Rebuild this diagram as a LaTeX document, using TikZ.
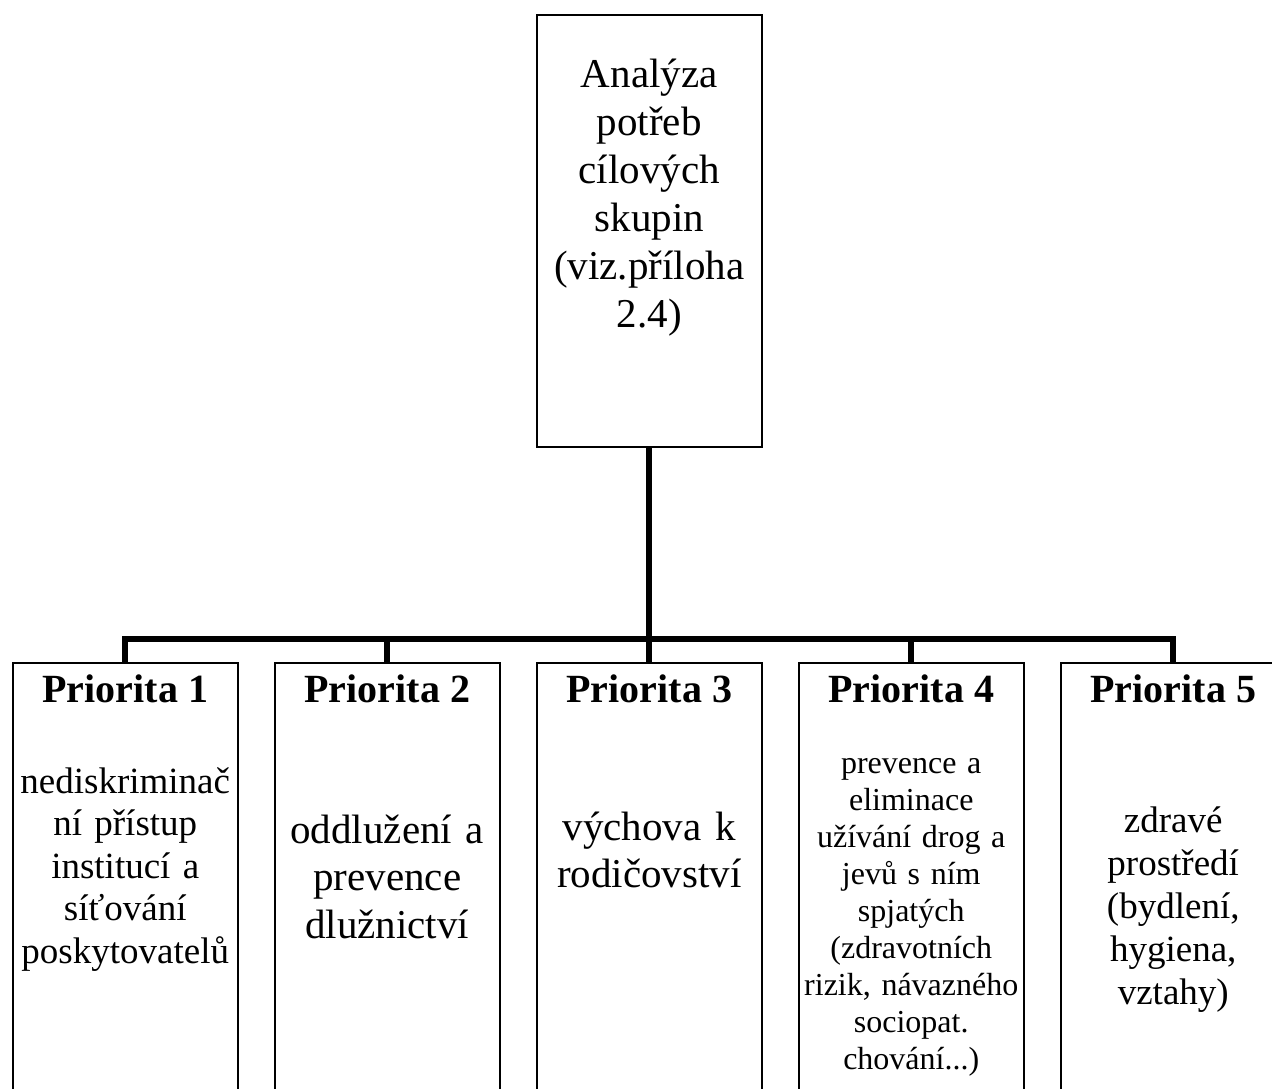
\documentclass[tikz,border=0pt]{standalone}
\usepackage{fontspec}
\setmainfont{Liberation Serif}
\begin{document}
\begin{tikzpicture}[x=1pt,y=-1pt,
  box/.style={draw=black, line width=2pt, rectangle, inner sep=0pt,
    minimum width=224.5pt, anchor=north west},
  conn/.style={draw=black, line width=6pt, line join=miter},
  title/.style={anchor=base, inner sep=0pt,
    font=\fontsize{40}{46}\selectfont\bfseries},
  body/.style={anchor=north, inner sep=0pt, align=center, text width=222pt}]
\useasboundingbox (0,0) rectangle (1272,1088);
\clip (0,0) rectangle (1272,1088);

% top box
\node[box, minimum height=432pt] (top) at (536,14) {};
\node[body, font=\fontsize{41}{48}\selectfont] (toptext)
  at ([yshift=-39.4pt]top.north)
  {\strut Analýza\\potřeb\\cílových\\skupin\\(viz.příloha\\2.4)};

% priority boxes
\foreach \i/\x in {1/12,2/274,3/536,4/798,5/1060}
  \node[box, minimum height=450pt] (b\i) at (\x,662) {};

% connectors
\coordinate (bus) at (648.25,639);
\draw[conn] (top.south) -- (b3.north);
\draw[conn] (b1.north) |- (bus) -| (b5.north);
\draw[conn] (b2.north) -- (b2.north |- bus);
\draw[conn] (b4.north) -- (b4.north |- bus);

% titles
\foreach \i in {1,...,5}
  \node[title] (t\i) at ([yshift=-40pt]b\i.north) {Priorita \i};

% descriptions
\node[body, font=\fontsize{37}{42.5}\selectfont] (d1)
  at ([yshift=-101.25pt]b1.north)
  {\strut nediskriminač\\ní přístup\\institucí a\\síťování\\poskytovatelů};
\node[body, font=\fontsize{41}{47.5}\selectfont] (d2)
  at ([yshift=-147.75pt]b2.north)
  {\strut oddlužení a\\prevence\\dlužnictví};
\node[body, font=\fontsize{41}{47}\selectfont] (d3)
  at ([yshift=-145.1pt]b3.north)
  {\strut výchova k\\rodičovství};
\node[body, font=\fontsize{32}{37}\selectfont] (d4)
  at ([yshift=-85.1pt]b4.north)
  {\strut prevence a\\eliminace\\užívání drog a\\jevů s ním\\spjatých\\(zdravotních\\rizik, návazného\\sociopat.\\chování...)};
\node[body, font=\fontsize{37}{43}\selectfont] (d5)
  at ([yshift=-139.9pt]b5.north)
  {\strut zdravé\\prostředí\\(bydlení,\\hygiena,\\vztahy)};
\end{tikzpicture}
\end{document}
